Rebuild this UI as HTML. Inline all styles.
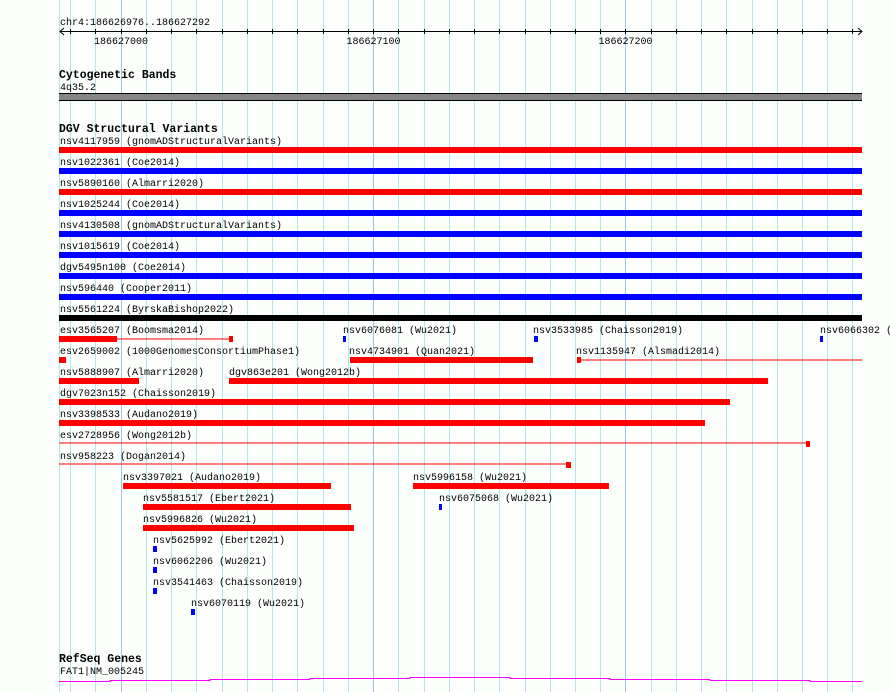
<!DOCTYPE html>
<html><head><meta charset="utf-8"><style>
html,body{margin:0;padding:0;background:#fff;}
svg{display:block;}
text{font-family:"Liberation Mono","DejaVu Sans Mono",monospace;font-size:10px;fill:#000;}
.h{font-weight:bold;font-size:11.5px;}
.g{stroke:#aee8ee;stroke-width:1;}
.gm{stroke:#9cc4e4;stroke-width:1;}
.t{stroke:#000;stroke-width:1;}
</style></head><body>
<svg width="890" height="692" viewBox="0 0 890 692" xmlns="http://www.w3.org/2000/svg">
<rect width="890" height="692" fill="#fdfffd"/>
<g>
<line class="g" x1="59.5" y1="0" x2="59.5" y2="692"/>
<line class="g" x1="70.5" y1="0" x2="70.5" y2="692"/>
<line class="g" x1="95.5" y1="0" x2="95.5" y2="692"/>
<line class="gm" x1="121.5" y1="0" x2="121.5" y2="692"/>
<line class="g" x1="146.5" y1="0" x2="146.5" y2="692"/>
<line class="g" x1="171.5" y1="0" x2="171.5" y2="692"/>
<line class="g" x1="196.5" y1="0" x2="196.5" y2="692"/>
<line class="g" x1="222.5" y1="0" x2="222.5" y2="692"/>
<line class="g" x1="247.5" y1="0" x2="247.5" y2="692"/>
<line class="g" x1="272.5" y1="0" x2="272.5" y2="692"/>
<line class="g" x1="297.5" y1="0" x2="297.5" y2="692"/>
<line class="g" x1="323.5" y1="0" x2="323.5" y2="692"/>
<line class="g" x1="348.5" y1="0" x2="348.5" y2="692"/>
<line class="gm" x1="373.5" y1="0" x2="373.5" y2="692"/>
<line class="g" x1="398.5" y1="0" x2="398.5" y2="692"/>
<line class="g" x1="424.5" y1="0" x2="424.5" y2="692"/>
<line class="g" x1="449.5" y1="0" x2="449.5" y2="692"/>
<line class="g" x1="474.5" y1="0" x2="474.5" y2="692"/>
<line class="g" x1="499.5" y1="0" x2="499.5" y2="692"/>
<line class="g" x1="525.5" y1="0" x2="525.5" y2="692"/>
<line class="g" x1="550.5" y1="0" x2="550.5" y2="692"/>
<line class="g" x1="575.5" y1="0" x2="575.5" y2="692"/>
<line class="g" x1="600.5" y1="0" x2="600.5" y2="692"/>
<line class="gm" x1="625.5" y1="0" x2="625.5" y2="692"/>
<line class="g" x1="651.5" y1="0" x2="651.5" y2="692"/>
<line class="g" x1="676.5" y1="0" x2="676.5" y2="692"/>
<line class="g" x1="701.5" y1="0" x2="701.5" y2="692"/>
<line class="g" x1="726.5" y1="0" x2="726.5" y2="692"/>
<line class="g" x1="752.5" y1="0" x2="752.5" y2="692"/>
<line class="g" x1="777.5" y1="0" x2="777.5" y2="692"/>
<line class="g" x1="802.5" y1="0" x2="802.5" y2="692"/>
<line class="g" x1="827.5" y1="0" x2="827.5" y2="692"/>
<line class="g" x1="852.5" y1="0" x2="852.5" y2="692"/>
</g>
<!-- ruler -->
<text x="60" y="25">chr4:186626976..186627292</text>
<line class="t" x1="60" y1="31.5" x2="862" y2="31.5"/>
<polyline points="64,28 60,31.5 64,35" fill="none" stroke="#000"/>
<polyline points="858,28 862,31.5 858,35" fill="none" stroke="#000"/>
<g class="t">
<line x1="70.5" y1="29" x2="70.5" y2="34"/><line x1="95.5" y1="29" x2="95.5" y2="34"/><line x1="121.5" y1="29" x2="121.5" y2="34"/><line x1="146.5" y1="29" x2="146.5" y2="34"/><line x1="171.5" y1="29" x2="171.5" y2="34"/><line x1="196.5" y1="29" x2="196.5" y2="34"/><line x1="222.5" y1="29" x2="222.5" y2="34"/><line x1="247.5" y1="29" x2="247.5" y2="34"/><line x1="272.5" y1="29" x2="272.5" y2="34"/><line x1="297.5" y1="29" x2="297.5" y2="34"/><line x1="323.5" y1="29" x2="323.5" y2="34"/><line x1="348.5" y1="29" x2="348.5" y2="34"/><line x1="373.5" y1="29" x2="373.5" y2="34"/><line x1="398.5" y1="29" x2="398.5" y2="34"/><line x1="424.5" y1="29" x2="424.5" y2="34"/><line x1="449.5" y1="29" x2="449.5" y2="34"/><line x1="474.5" y1="29" x2="474.5" y2="34"/><line x1="499.5" y1="29" x2="499.5" y2="34"/><line x1="525.5" y1="29" x2="525.5" y2="34"/><line x1="550.5" y1="29" x2="550.5" y2="34"/><line x1="575.5" y1="29" x2="575.5" y2="34"/><line x1="600.5" y1="29" x2="600.5" y2="34"/><line x1="625.5" y1="29" x2="625.5" y2="34"/><line x1="651.5" y1="29" x2="651.5" y2="34"/><line x1="676.5" y1="29" x2="676.5" y2="34"/><line x1="701.5" y1="29" x2="701.5" y2="34"/><line x1="726.5" y1="29" x2="726.5" y2="34"/><line x1="752.5" y1="29" x2="752.5" y2="34"/><line x1="777.5" y1="29" x2="777.5" y2="34"/><line x1="802.5" y1="29" x2="802.5" y2="34"/><line x1="827.5" y1="29" x2="827.5" y2="34"/><line x1="852.5" y1="29" x2="852.5" y2="34"/>
</g>
<text x="121" y="44" text-anchor="middle">186627000</text>
<text x="373.5" y="44" text-anchor="middle">186627100</text>
<text x="625.5" y="44" text-anchor="middle">186627200</text>
<!-- cytoband -->
<text class="h" x="59" y="78">Cytogenetic Bands</text>
<text x="60" y="90">4q35.2</text>
<rect x="59" y="93" width="803" height="8" fill="#000"/>
<rect x="59" y="94" width="803" height="6" fill="#858585"/>
<!-- DGV -->
<text class="h" x="59" y="132">DGV Structural Variants</text>
<g>
<text x="60" y="144">nsv4117959 (gnomADStructuralVariants)</text><rect x="59" y="147" width="803" height="6" fill="#f00"/>
<text x="60" y="165">nsv1022361 (Coe2014)</text><rect x="59" y="168" width="803" height="6" fill="#00f"/>
<text x="60" y="186">nsv5890160 (Almarri2020)</text><rect x="59" y="189" width="803" height="6" fill="#f00"/>
<text x="60" y="207">nsv1025244 (Coe2014)</text><rect x="59" y="210" width="803" height="6" fill="#00f"/>
<text x="60" y="228">nsv4130508 (gnomADStructuralVariants)</text><rect x="59" y="231" width="803" height="6" fill="#00f"/>
<text x="60" y="249">nsv1015619 (Coe2014)</text><rect x="59" y="252" width="803" height="6" fill="#00f"/>
<text x="60" y="270">dgv5495n100 (Coe2014)</text><rect x="59" y="273" width="803" height="6" fill="#00f"/>
<text x="60" y="291">nsv596440 (Cooper2011)</text><rect x="59" y="294" width="803" height="6" fill="#00f"/>
<text x="60" y="312">nsv5561224 (ByrskaBishop2022)</text><rect x="59" y="315" width="803" height="6" fill="#000"/>

<text x="60" y="333">esv3565207 (Boomsma2014)</text><rect x="59" y="336" width="58" height="6" fill="#f00"/><rect x="117" y="338.5" width="112" height="1" fill="#f00"/><rect x="229" y="336" width="4" height="6" fill="#f00"/>
<text x="343" y="333">nsv6076081 (Wu2021)</text><rect x="343" y="336" width="3" height="6" fill="#00f"/>
<text x="533" y="333">nsv3533985 (Chaisson2019)</text><rect x="534" y="336" width="4" height="6" fill="#00f"/>
<text x="820" y="333">nsv6066302 (</text><rect x="820" y="336" width="3" height="6" fill="#00f"/>

<text x="60" y="354">esv2659002 (1000GenomesConsortiumPhase1)</text><rect x="59" y="357" width="7" height="6" fill="#f00"/>
<text x="349" y="354">nsv4734901 (Quan2021)</text><rect x="350" y="357" width="183" height="6" fill="#f00"/>
<text x="576" y="354">nsv1135947 (Alsmadi2014)</text><rect x="577" y="357" width="4" height="6" fill="#f00"/><rect x="581" y="359.5" width="281" height="1" fill="#f00"/>

<text x="60" y="375">nsv5888907 (Almarri2020)</text><rect x="59" y="378" width="80" height="6" fill="#f00"/>
<text x="229" y="375">dgv863e201 (Wong2012b)</text><rect x="229" y="378" width="539" height="6" fill="#f00"/>

<text x="60" y="396">dgv7023n152 (Chaisson2019)</text><rect x="59" y="399" width="671" height="6" fill="#f00"/>
<text x="60" y="417">nsv3398533 (Audano2019)</text><rect x="59" y="420" width="646" height="6" fill="#f00"/>
<text x="60" y="438">esv2728956 (Wong2012b)</text><rect x="59" y="442.5" width="747" height="1" fill="#f00"/><rect x="806" y="441" width="4" height="6" fill="#f00"/>
<text x="60" y="459">nsv958223 (Dogan2014)</text><rect x="59" y="463.5" width="507" height="1" fill="#f00"/><rect x="566" y="462" width="5" height="6" fill="#f00"/>

<text x="123" y="480">nsv3397021 (Audano2019)</text><rect x="123" y="483" width="208" height="6" fill="#f00"/>
<text x="413" y="480">nsv5996158 (Wu2021)</text><rect x="413" y="483" width="196" height="6" fill="#f00"/>
<text x="143" y="501">nsv5581517 (Ebert2021)</text><rect x="143" y="504" width="208" height="6" fill="#f00"/>
<text x="439" y="501">nsv6075068 (Wu2021)</text><rect x="439" y="504" width="3" height="6" fill="#00f"/>
<text x="143" y="522">nsv5996826 (Wu2021)</text><rect x="143" y="525" width="211" height="6" fill="#f00"/>
<text x="153" y="543">nsv5625992 (Ebert2021)</text><rect x="153" y="546" width="4" height="6" fill="#00f"/>
<text x="153" y="564">nsv6062206 (Wu2021)</text><rect x="153" y="567" width="4" height="6" fill="#00f"/>
<text x="153" y="585">nsv3541463 (Chaisson2019)</text><rect x="153" y="588" width="4" height="6" fill="#00f"/>
<text x="191" y="606">nsv6070119 (Wu2021)</text><rect x="191" y="609" width="4" height="6" fill="#00f"/>
</g>
<!-- RefSeq -->
<text class="h" x="59" y="662">RefSeq Genes</text>
<text x="60" y="674">FAT1|NM_005245</text>
<polyline fill="none" stroke="#f0f" stroke-width="1" points="59,681.5 110,681.5 110,680.5 210,680.5 210,679.5 310,679.5 310,678.5 410,678.5 410,677.5 510,677.5 510,678.5 610,678.5 610,679.5 710,679.5 710,680.5 810,680.5 810,681.5 862,681.5"/>
</svg>
</body></html>
